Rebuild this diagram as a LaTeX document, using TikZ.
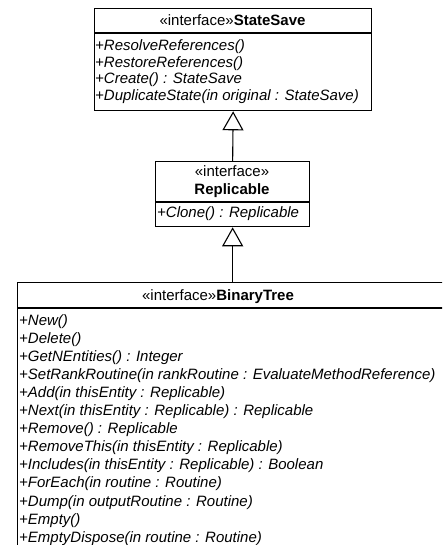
\documentclass[tikz,border=0pt]{standalone}
\usepackage{fontspec}
\setmainfont{Liberation Sans}
\usetikzlibrary{arrows.meta}
\tikzset{
  classbox/.style={draw, line width=1.3pt, inner sep=0pt, anchor=north west},
  op/.style={anchor=base west, inner sep=0pt, font=\fontsize{15}{18}\selectfont\itshape},
  head/.style={anchor=base, inner sep=0pt, font=\fontsize{15}{18}\selectfont},
  rule/.style={line width=1.1pt},
  realize/.style={line width=1.1pt, -{Triangle[open, length=19pt, width=21pt, line width=1.1pt]}},
}
\begin{document}
\begin{tikzpicture}[x=1pt, y=-1pt]
\useasboundingbox (0,0) rectangle (442,545);
\clip (0,0) rectangle (442,545);

% StateSave interface
\node[classbox, minimum width=277pt, minimum height=102pt] (ss) at (94,8) {};
\draw[rule] ([yshift=-25pt]ss.north west) -- ([yshift=-25pt]ss.north east);
\node[head] (ssh) at (232.5,26) {«interface»\textbf{StateSave}};
\node[op] (ss1) at (95,51)    {+ResolveReferences()};
\node[op] (ss2) at (95,67.5)  {+RestoreReferences()};
\node[op] (ss3) at (95,84)    {+Create() : StateSave};
\node[op] (ss4) at (95,100.5) {+DuplicateState(in original : StateSave)};

% Replicable interface
\node[classbox, minimum width=154pt, minimum height=65pt] (rep) at (155,161) {};
\draw[rule] ([yshift=-41pt]rep.north west) -- ([yshift=-41pt]rep.north east);
\node[head] (reph1) at (232,177) {«interface»};
\node[head] (reph2) at (232,195) {\textbf{Replicable}};
\node[op] (rep1) at (157,217) {+Clone() : Replicable};

% BinaryTree interface (runs past the right and bottom edges)
\node[classbox, minimum width=460pt, minimum height=300pt] (bt) at (17,282) {};
\draw[rule] ([yshift=-26pt]bt.north west) -- ([yshift=-26pt]bt.north east);
\node[head] (bth) at (218,300) {«interface»\textbf{BinaryTree}};
\foreach \t [count=\i from 0] in {
  {+New()},
  {+Delete()},
  {+GetNEntities() : Integer},
  {+SetRankRoutine(in rankRoutine : EvaluateMethodReference)},
  {+Add(in thisEntity : Replicable)},
  {+Next(in thisEntity : Replicable) : Replicable},
  {+Remove() : Replicable},
  {+RemoveThis(in thisEntity : Replicable)},
  {+Includes(in thisEntity : Replicable) : Boolean},
  {+ForEach(in routine : Routine)},
  {+Dump(in outputRoutine : Routine)},
  {+Empty()},
  {+EmptyDispose(in routine : Routine)}}
  \node[op] (bt\i) at (19,325+18.1*\i) {\t};

% Realization arrows
\draw[realize] (rep.north) -- (ss.south);
\draw[realize] (rep.south |- bt.north) -- (rep.south);
\end{tikzpicture}
\end{document}
